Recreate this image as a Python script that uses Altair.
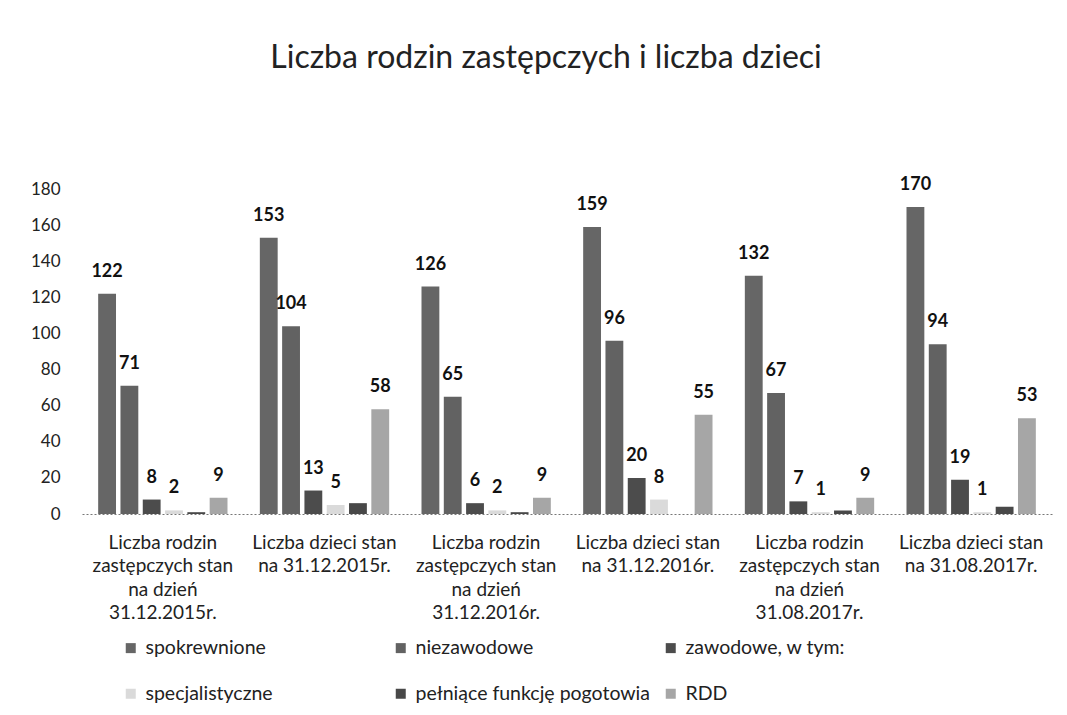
import altair as alt
import pandas as pd

categories = [
    "Liczba rodzin|zastępczych stan|na dzień|31.12.2015r.",
    "Liczba dzieci stan|na 31.12.2015r.",
    "Liczba rodzin|zastępczych stan|na dzień|31.12.2016r.",
    "Liczba dzieci stan|na 31.12.2016r.",
    "Liczba rodzin|zastępczych stan|na dzień|31.08.2017r.",
    "Liczba dzieci stan|na 31.08.2017r.",
]
series = ["spokrewnione", "niezawodowe", "zawodowe, w tym:", "specjalistyczne",
          "pełniące funkcję pogotowia", "RDD"]
spokrewnione = [122, 153, 126, 159, 132, 170]
niezawodowe = [71, 104, 65, 96, 67, 94]
zawodowe = [8, 13, 6, 20, 7, 19]
specjalistyczne = [2, 5, 2, 8, 1, 1]
pogotowie = [1, 6, 1, 0, 2, 4]
rdd = [9, 58, 9, 55, 9, 53]
colors = ["#666666", "#626262", "#4c4c4c", "#dadada", "#484848", "#a6a6a6"]
labelled_series = ["spokrewnione", "niezawodowe", "zawodowe, w tym:", "specjalistyczne", "RDD"]
y_ticks = [0, 20, 40, 60, 80, 100, 120, 140, 160, 180]

rows = []
for s, vals in zip(series, [spokrewnione, niezawodowe, zawodowe, specjalistyczne, pogotowie, rdd]):
    for c, v in zip(categories, vals):
        rows.append({"cat": c, "series": s, "value": v})
df = pd.DataFrame(rows)

FONT = "Lato"

base = alt.Chart(df).encode(
    x=alt.X("cat:N", sort=categories,
            scale=alt.Scale(paddingInner=0.2, paddingOuter=0.1),
            axis=alt.Axis(title=None, labelAngle=0, labelExpr="split(datum.label, '|')",
                          labelFontSize=19, labelLineHeight=23.5, labelPadding=19,
                          labelFont=FONT, labelColor="#222", labelLimit=250,
                          ticks=False, domainDash=[2, 2], domainColor="#777",
                          domainWidth=1)),
    xOffset=alt.XOffset("series:N", sort=series, scale=alt.Scale(paddingInner=0.2)),
    y=alt.Y("value:Q", scale=alt.Scale(domain=[0, 180], nice=False),
            axis=alt.Axis(title=None, values=y_ticks, domain=False, ticks=False, grid=False,
                          labelFontSize=17, labelFont=FONT, labelColor="#222",
                          labelPadding=22)),
)

bars = base.mark_bar().encode(
    color=alt.Color("series:N", sort=series,
                    scale=alt.Scale(domain=series, range=colors),
                    legend=alt.Legend(title=None, orient="none", legendX=39, legendY=449,
                                      direction="horizontal",
                                      columns=3, gridAlign="all", columnPadding=11,
                                      rowPadding=25, symbolType="square", symbolSize=100,
                                      symbolStrokeWidth=0, labelFontSize=19.5,
                                      labelFont=FONT, labelColor="#222", labelLimit=300,
                                      labelOffset=5))
)

texts = base.transform_filter(
    alt.FieldOneOfPredicate(field="series", oneOf=labelled_series)
).mark_text(dy=-22, fontWeight="bold", fontSize=18, font=FONT, color="#111",
            baseline="middle").encode(text="value:Q")

chart = alt.layer(bars, texts).properties(
    width=970, height=325,
    title=alt.TitleParams("Liczba rodzin zastępczych i liczba dzieci", fontSize=32,
                          font=FONT, fontWeight="normal", color="#222",
                          anchor="middle", offset=101, dx=-21),
    padding={"left": 22, "top": 34, "right": 5, "bottom": 5},
).configure_view(stroke=None)

chart.save("out.html", embed_options={"renderer": "svg", "actions": False})
